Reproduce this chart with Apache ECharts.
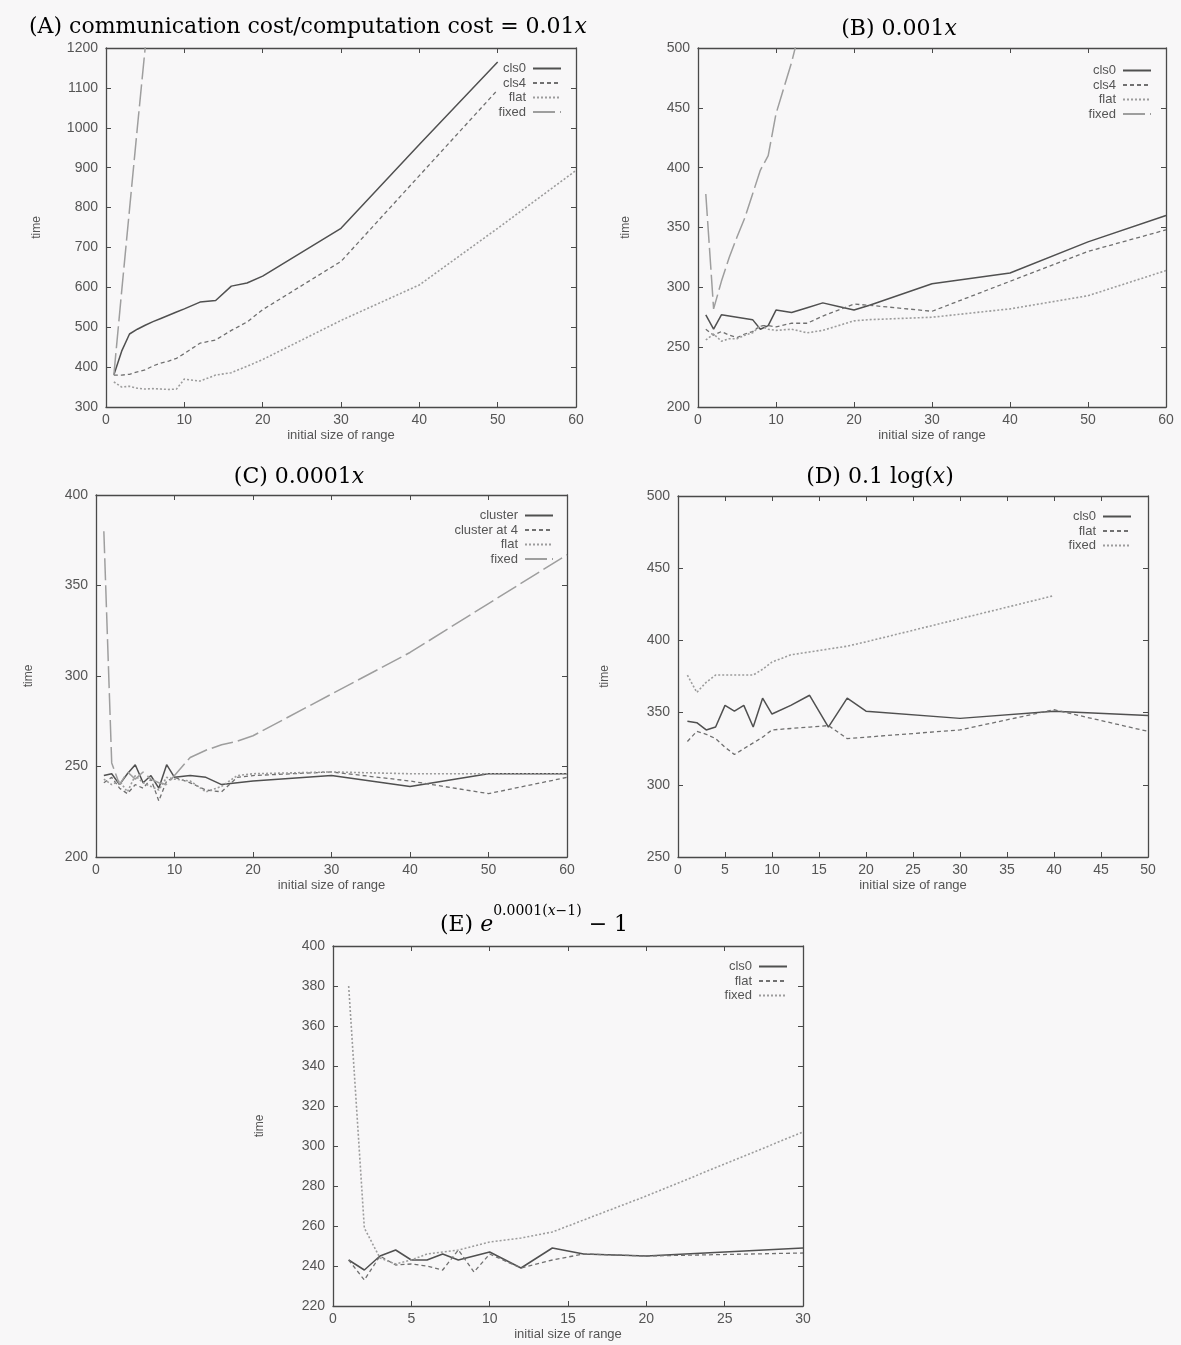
<!DOCTYPE html>
<html>
<head>
<meta charset="utf-8">
<script src="https://cdn.jsdelivr.net/npm/echarts@6/dist/echarts.min.js"></script>
<style>
  html, body { margin: 0; padding: 0; background: #f8f7f8; }
  #chart { width: 1181px; height: 1345px; }
</style>
</head>
<body>
<div id="chart"></div>
<script>
// ---- (A) ratio 0.01x ----
const aX = [1, 2, 3, 4, 5, 6, 7, 8, 9, 10, 12, 14, 16, 18, 20, 30, 40, 50, 60];
const aCls0 = [380, 440, 483, 495, 505, 514, 522, 530, 538, 546, 563, 567, 603, 611, 628, 748, 958, 1165, null];
const aCls4 = [380, 380, 382, 388, 393, 403, 410, 415, 422, 434, 460, 468, 492, 513, 544, 665, 880, 1095, null];
const aFlat = [363, 350, 352, 347, 345, 346, 345, 344, 345, 370, 365, 380, 386, 402, 419, 517, 606, 748, 893];
const aFixedX = [1, 2, 3, 4, 5, 6];
const aFixed = [380, 590, 795, 1000, 1200, 1400];

// ---- (B) 0.001x ----
const bX = [1, 2, 3, 4, 5, 6, 7, 8, 9, 10, 12, 14, 16, 18, 20, 22, 30, 40, 50, 60];
const bCls0 = [277, 265, 277, 276, 275, 274, 273, 265, 268, 281, 279, 283, 287, 284, 281, 285, 303, 312, 338, 360];
const bCls4 = [265, 260, 263, 260, 258, 261, 263, 268, 268, 267, 270, 270, 276, 281, 286, 285, 280, 305, 330, 348];
const bFlat = [256, 261, 255, 257, 257, 260, 262, 268, 265, 264, 265, 262, 264, 268, 272, 273, 275, 282, 293, 314];
const bFixedX = [1, 2, 3, 4, 5, 6, 7, 8, 9, 10, 12, 14];
const bFixed = [378, 282, 305, 325, 342, 358, 378, 398, 410, 445, 488, 540];

// ---- (C) 0.0001x ----
const cX = [1, 2, 3, 4, 5, 6, 7, 8, 9, 10, 12, 14, 16, 18, 20, 30, 40, 50, 60];
const cCluster = [245, 246, 240, 246, 251, 241, 245, 238, 251, 244, 245, 244, 240, 241, 242, 245, 239, 246, 246];
const cClusterAt4 = [241, 244, 238, 235, 240, 238, 243, 231, 242, 244, 241, 237, 236, 244, 245, 247, 242, 235, 244];
const cFlat = [243, 240, 242, 236, 245, 241, 239, 237, 244, 243, 242, 236, 239, 245, 246, 247, 246, 246, 246];
const cFixed = [380, 252, 240, 247, 243, 247, 243, 241, 240, 245, 255, 259, 262, 264, 267, 290, 313, 340, 367];

// ---- (D) 0.1 log(x) ----
const dX = [1, 2, 3, 4, 5, 6, 7, 8, 9, 10, 12, 14, 16, 18, 20, 30, 40, 50];
const dCls0 = [344, 343, 338, 340, 355, 351, 355, 340, 360, 349, 355, 362, 340, 360, 351, 346, 351, 348];
const dFlat = [330, 337, 335, 332, 326, 321, 325, 329, 333, 338, 339, 340, 341, 332, 333, 338, 352, 337];
const dFixed = [376, 364, 371, 376, 376, 376, 376, 376, 380, 385, 390, 392, 394, 396, 399, 415, 431, null];

// ---- (E) e^{0.0001(x-1)} - 1 ----
const eX = [1, 2, 3, 4, 5, 6, 7, 8, 9, 10, 12, 14, 16, 18, 20, 30];
const eCls0 = [243, 238, 245, 248, 243, 243, 246, 243, 245, 247, 239, 249, 246, 245.5, 245, 249];
const eFlat = [243, 233, 245, 240.5, 241, 240, 238, 248, 237, 246, 239, 243, 246, 245.5, 245, 246.5];
const eFixed = [380, 259, 244, 241, 243, 246, 247, 248, 250, 252, 254, 257, 263, 269, 275, 307];

// axis ranges per panel: [xmin, xmax, xstep, ymin, ymax, ystep]
const axisRanges = [
  [0, 60, 10, 300, 1200, 100],
  [0, 60, 10, 200, 500, 50],
  [0, 60, 10, 200, 400, 50],
  [0, 50, 5, 250, 500, 50],
  [0, 30, 5, 220, 400, 20]
];

// ---------------- styling ----------------
const SANS = 'Liberation Sans, Arial, sans-serif';
const SERIF = 'DejaVu Serif, serif';
const AXIS = '#4a4a4a';
const LABEL = '#555';

const styles = {
  solid:  { color: '#505050', width: 1.5, type: 'solid' },
  dashed: { color: '#707070', width: 1.3, type: [4, 3] },
  dotted: { color: '#9c9c9c', width: 1.6, type: [2, 2] },
  long:   { color: '#9e9e9e', width: 1.5, type: [22, 5] }
};

const grids = [
  { left: 106, top: 48, width: 470, height: 359 },
  { left: 698, top: 48, width: 468, height: 359 },
  { left: 96, top: 495, width: 471, height: 362 },
  { left: 678, top: 496, width: 470, height: 361 },
  { left: 333, top: 946, width: 470, height: 360 }
];
const yNameGaps = [63, 66, 61, 67, 67];

const pairs = (xs, ys) => xs.map((x, i) => [x, ys[i]]);

function line(panel, tag, label, xs, ys, st) {
  return {
    name: tag + '|' + label,
    type: 'line',
    xAxisIndex: panel,
    yAxisIndex: panel,
    data: pairs(xs, ys),
    symbol: 'none',
    showSymbol: false,
    clip: true,
    connectNulls: false,
    animation: false,
    lineStyle: { color: st.color, width: st.width, type: st.type },
    itemStyle: { color: st.color },
    z: 3
  };
}

const series = [
  line(0, 'A', 'cls0', aX, aCls0, styles.solid),
  line(0, 'A', 'cls4', aX, aCls4, styles.dashed),
  line(0, 'A', 'flat', aX, aFlat, styles.dotted),
  line(0, 'A', 'fixed', aFixedX, aFixed, styles.long),

  line(1, 'B', 'cls0', bX, bCls0, styles.solid),
  line(1, 'B', 'cls4', bX, bCls4, styles.dashed),
  line(1, 'B', 'flat', bX, bFlat, styles.dotted),
  line(1, 'B', 'fixed', bFixedX, bFixed, styles.long),

  line(2, 'C', 'cluster', cX, cCluster, styles.solid),
  line(2, 'C', 'cluster at 4', cX, cClusterAt4, styles.dashed),
  line(2, 'C', 'flat', cX, cFlat, styles.dotted),
  line(2, 'C', 'fixed', cX, cFixed, styles.long),

  line(3, 'D', 'cls0', dX, dCls0, styles.solid),
  line(3, 'D', 'flat', dX, dFlat, styles.dashed),
  line(3, 'D', 'fixed', dX, dFixed, styles.dotted),

  line(4, 'E', 'cls0', eX, eCls0, styles.solid),
  line(4, 'E', 'flat', eX, eFlat, styles.dashed),
  line(4, 'E', 'fixed', eX, eFixed, styles.dotted)
];

// axes: main bottom/left with labels, mirrored top/right with ticks only
const xAxes = [], yAxes = [];
const tickStyle = { show: true, inside: true, length: 5, lineStyle: { color: AXIS, width: 1 } };
const lineStyleAxis = { show: true, onZero: false, lineStyle: { color: AXIS, width: 1.3 } };
axisRanges.forEach((r, i) => {
  xAxes.push({
    type: 'value', gridIndex: i, min: r[0], max: r[1], interval: r[2], position: 'bottom',
    axisLine: lineStyleAxis, axisTick: tickStyle, splitLine: { show: false },
    axisLabel: { color: LABEL, fontFamily: SANS, fontSize: 14, margin: 6, formatter: v => String(v) },
    name: 'initial size of range', nameLocation: 'middle', nameGap: 22,
    nameTextStyle: { color: LABEL, fontFamily: SANS, fontSize: 13 }
  });
  yAxes.push({
    type: 'value', gridIndex: i, min: r[3], max: r[4], interval: r[5], position: 'left',
    axisLine: lineStyleAxis, axisTick: tickStyle, splitLine: { show: false },
    axisLabel: { color: LABEL, fontFamily: SANS, fontSize: 14, margin: 8, formatter: v => String(v) },
    name: 'time', nameLocation: 'middle', nameGap: yNameGaps[i], nameRotate: 90,
    nameTextStyle: { color: LABEL, fontFamily: SANS, fontSize: 12 }
  });
});
axisRanges.forEach((r, i) => {
  xAxes.push({
    type: 'value', gridIndex: i, min: r[0], max: r[1], interval: r[2], position: 'top',
    axisLine: lineStyleAxis, axisTick: tickStyle, axisLabel: { show: false }, splitLine: { show: false }
  });
  yAxes.push({
    type: 'value', gridIndex: i, min: r[3], max: r[4], interval: r[5], position: 'right',
    axisLine: lineStyleAxis, axisTick: tickStyle, axisLabel: { show: false }, splitLine: { show: false }
  });
});

// legends, one per panel, text on the left and line sample on the right
const legendPos = [
  { tag: 'A', right: 619, top: 62 },
  { tag: 'B', right: 29, top: 64 },
  { tag: 'C', right: 627, top: 509 },
  { tag: 'D', right: 49, top: 510 },
  { tag: 'E', right: 393, top: 960 }
];
const legends = legendPos.map(p => ({
  orient: 'vertical',
  right: p.right,
  top: p.top,
  align: 'right',
  itemWidth: 28,
  itemHeight: 12,
  itemGap: 1.5,
  padding: 0,
  selectedMode: false,
  itemStyle: { opacity: 0 },
  data: series.filter(s => s.name.startsWith(p.tag + '|')).map(s => s.name),
  formatter: n => n.split('|')[1],
  textStyle: { color: LABEL, fontFamily: SANS, fontSize: 13, padding: [0, 2, 0, 0] }
}));

// panel titles
const TITLE_COLOR = '#3a3a3a';
const richBase = {
  r: { fontFamily: SERIF, fontSize: 22, color: TITLE_COLOR, lineHeight: 32, verticalAlign: 'bottom' },
  i: { fontFamily: SERIF, fontStyle: 'italic', fontSize: 22, color: TITLE_COLOR, lineHeight: 32, verticalAlign: 'bottom' },
  s: { fontFamily: SERIF, fontSize: 14, color: TITLE_COLOR, lineHeight: 32, verticalAlign: 'top' },
  si: { fontFamily: SERIF, fontStyle: 'italic', fontSize: 14, color: TITLE_COLOR, lineHeight: 32, verticalAlign: 'top' }
};
const titleText = [
  { x: 308, y: 22, text: '{r|(A) communication cost/computation cost = 0.01}{i|x}' },
  { x: 899, y: 24, text: '{r|(B) 0.001}{i|x}' },
  { x: 299, y: 472, text: '{r|(C) 0.0001}{i|x}' },
  { x: 880, y: 472, text: '{r|(D) 0.1 log(}{i|x}{r|)}' },
  { x: 534, y: 920, text: '{r|(E) }{i|e}{s|0.0001(}{si|x}{s|\u22121)}{r| \u2212 1}' }
];
const graphics = titleText.map(t => ({
  type: 'text',
  x: t.x,
  y: t.y,
  silent: true,
  style: {
    text: t.text,
    rich: richBase,
    align: 'center',
    verticalAlign: 'middle'
  }
}));

const chart = echarts.init(document.getElementById('chart'), null, { renderer: 'canvas' });
chart.setOption({
  backgroundColor: '#f8f7f8',
  animation: false,
  grid: grids.map(g => Object.assign({ containLabel: false }, g)),
  xAxis: xAxes,
  yAxis: yAxes,
  legend: legends,
  series: series,
  graphic: graphics
});
</script>
</body>
</html>
